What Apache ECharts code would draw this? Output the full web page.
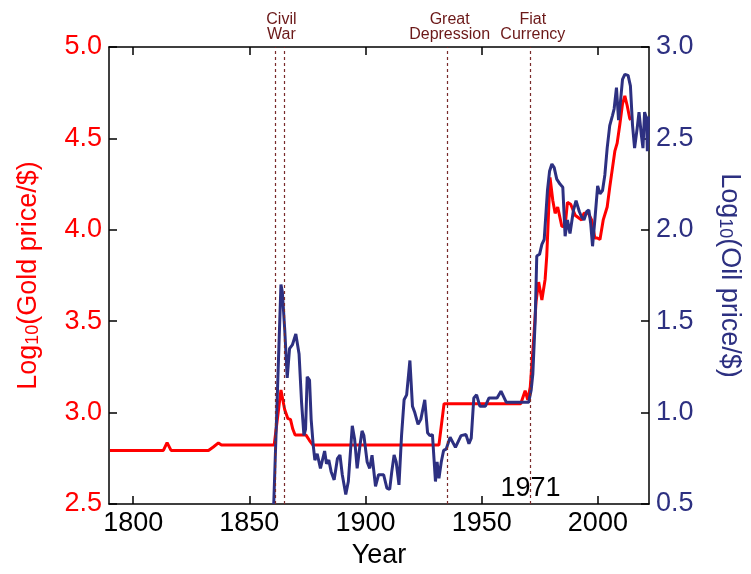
<!DOCTYPE html>
<html>
<head>
<meta charset="utf-8">
<script src="https://cdn.jsdelivr.net/npm/echarts@6/dist/echarts.min.js"></script>
<style>
  html, body { margin: 0; padding: 0; background: #fff; }
  #chart { width: 751px; height: 574px; }
</style>
</head>
<body>
<div id="chart"></div>
<script>
// log10 of gold price (left axis)
const goldYears = [1790, 1813, 1814.6, 1816.3, 1832.4, 1834.5, 1836.7, 1838, 1860.7, 1863.6,
    1865.2, 1866.6, 1867.7, 1868.7, 1869.7, 1874.4, 1875.9, 1877.3, 1931.6, 1933.8,
    1966.8, 1968.7, 1969.8, 1970.9, 1972.3, 1973.4, 1974.5, 1975.9, 1977.3, 1978,
    1979.4, 1980.6, 1981.6, 1982.7, 1984.5, 1985.9, 1986.9, 1988.3, 1990.2, 1993,
    1994, 1995.9, 1997.3, 1998.7, 1999.7, 2000.9, 2002.3, 2004, 2005.1, 2006.3,
    2007.3, 2008.3, 2009.4, 2010.6, 2011.6, 2012.6, 2013.7, 2014.1];
const goldLog = [2.793, 2.793, 2.836, 2.793, 2.793, 2.812, 2.834, 2.823, 2.823, 3.124,
    3.017, 2.967, 2.963, 2.91, 2.877, 2.877, 2.847, 2.823, 2.823, 3.049,
    3.049, 3.12, 3.07, 3.14, 3.39, 3.607, 3.714, 3.616, 3.73, 3.857,
    4.287, 4.16, 4.09, 4.125, 4.018, 4.02, 4.15, 4.14, 4.08, 4.054,
    4.09, 4.09, 4.054, 3.955, 3.955, 3.947, 4.054, 4.125, 4.233, 4.34,
    4.43, 4.474, 4.572, 4.689, 4.733, 4.68, 4.61, 4.60];

// log10 of oil price (right axis)
const oilYears = [1860.5, 1863.6, 1864.2, 1865.2, 1866.3, 1867.3, 1868.5, 1870, 1871.4, 1872.5,
    1873.5, 1874.2, 1874.9, 1875.9, 1876.6, 1877.5, 1878.2, 1879.2, 1880.6, 1882.4,
    1883.2, 1884.2, 1885.2, 1886.5, 1887.9, 1889, 1890, 1891.5, 1892.6, 1894.3,
    1895.3, 1896.4, 1897.6, 1898.5, 1899.3, 1900.7, 1901.8, 1902.8, 1904.3, 1905.6,
    1907.8, 1909.2, 1910.4, 1911.3, 1912.3, 1913.2, 1914.4, 1915.5, 1916.6, 1917.7,
    1919.1, 1920.2, 1921.2, 1922.6, 1923.8, 1925.5, 1926.7, 1927.7, 1928.8, 1930.1,
    1930.8, 1931.6, 1932.6, 1933.6, 1934.7, 1936.4, 1938.7, 1941.1, 1943.2, 1944.5,
    1945.5, 1946.6, 1947.8, 1949.2, 1951.6, 1953.1, 1956.6, 1958.3, 1960.6, 1970.2,
    1971.3, 1972, 1973, 1973.7, 1974.9, 1975.9, 1976.9, 1977.7, 1978.3, 1979.2,
    1980.2, 1981.2, 1982.3, 1983.7, 1984.9, 1985.9, 1986.9, 1988, 1989.5, 1990.6,
    1992, 1993, 1994, 1995.2, 1996.1, 1996.9, 1997.7, 1998.7, 1999.9, 2000.9,
    2002, 2003, 2004, 2005.1, 2006.3, 2007, 2008, 2008.9, 2009.7, 2010.6,
    2011.6, 2013, 2014, 2014.9, 2015.8, 2016.9, 2017.7, 2018.7, 2019.4, 2020.1,
    2020.9, 2021.3, 2021.8];
const oilLog = [0.50, 1.70, 1.66, 1.46, 1.19, 1.35, 1.37, 1.43, 1.32, 1.05,
    0.875, 0.91, 1.196, 1.178, 0.963, 0.82, 0.74, 0.775, 0.695, 0.79,
    0.72, 0.74, 0.677, 0.632, 0.748, 0.768, 0.66, 0.552, 0.623, 0.928,
    0.856, 0.695, 0.82, 0.90, 0.874, 0.73, 0.695, 0.767, 0.597, 0.66,
    0.66, 0.587, 0.58, 0.677, 0.768, 0.73, 0.605, 0.874, 1.07, 1.097,
    1.285, 1.035, 1.0, 0.936, 0.963, 1.07, 0.89, 0.874, 0.88, 0.623,
    0.73, 0.64, 0.73, 0.793, 0.80, 0.865, 0.81, 0.874, 0.88, 0.83,
    0.86, 1.08, 1.097, 1.035, 1.035, 1.08, 1.08, 1.117, 1.056, 1.056,
    1.124, 1.21, 1.5, 1.857, 1.866, 1.92, 1.947, 1.95, 2.215, 2.32,
    2.36, 2.34, 2.277, 2.25, 2.233, 1.965, 2.054, 1.98, 2.108, 2.16,
    2.1, 2.07, 2.054, 2.1, 2.108, 2.036, 1.91, 2.054, 2.24, 2.197,
    2.215, 2.30, 2.447, 2.57, 2.626, 2.662, 2.778, 2.6, 2.698, 2.823,
    2.85, 2.845, 2.787, 2.573, 2.447, 2.555, 2.644, 2.52, 2.447, 2.644,
    2.61, 2.43, 2.62];

const xTicks = [1800, 1850, 1900, 1950, 2000];
// dashed event lines; labels sit on their own invisible lines
const eventYears = [1861, 1865, 1935, 1971];
const eventLabels = [
    { year: 1863.8, text: 'Civil\nWar' },
    { year: 1936.2, text: 'Great\nDepression' },
    { year: 1972, text: 'Fiat\nCurrency' }
];
const noteYear = 1971;

const gold = goldYears.map(function (y, i) { return [y, goldLog[i]]; });
const oil = oilYears.map(function (y, i) { return [y, oilLog[i]]; });

const FONT = 'Liberation Sans';
const FS = 27;
const RED = '#ff0000';
const NAVY = '#2d3081';
const EVENT = '#7a2b2b';

let eventData = [];
for (let i = 0; i < eventYears.length; i++) {
    eventData.push({ xAxis: eventYears[i], label: { show: false } });
}
for (let i = 0; i < eventLabels.length; i++) {
    eventData.push({
        xAxis: eventLabels[i].year,
        lineStyle: { color: 'rgba(0,0,0,0)' },
        label: { show: true, formatter: eventLabels[i].text }
    });
}

const xCommon = {
    type: 'value',
    min: 1789.6,
    max: 2022,
    splitLine: { show: false },
    axisLine: { show: true, onZero: false, lineStyle: { color: '#000', width: 1.5 } },
    axisTick: { inside: true, length: 8, customValues: xTicks, lineStyle: { color: '#000', width: 1.5 } }
};

let myChart = echarts.init(document.getElementById('chart'));
let option = {
    animation: false,
    grid: { left: 109, right: 98, top: 47, bottom: 61 },
    xAxis: [
        Object.assign({}, xCommon, {
            position: 'bottom',
            name: 'Year',
            nameLocation: 'middle',
            nameGap: 38,
            nameTextStyle: { color: '#000', fontSize: FS, fontFamily: FONT },
            axisLabel: {
                customValues: xTicks, margin: 6, color: '#000', fontSize: FS, fontFamily: FONT,
                formatter: function (v) { return String(v); }
            }
        }),
        Object.assign({}, xCommon, {
            position: 'top',
            axisLabel: { show: false }
        })
    ],
    yAxis: [
        {
            type: 'value',
            position: 'left',
            min: 2.5, max: 5, interval: 0.5,
            splitLine: { show: false },
            axisLine: { show: true, onZero: false, lineStyle: { color: '#000', width: 1.5 } },
            axisTick: { inside: true, length: 8, lineStyle: { color: '#000', width: 1.5 } },
            axisLabel: {
                margin: 7, color: RED, fontSize: FS, fontFamily: FONT,
                formatter: function (v) { return v.toFixed(1); }
            },
            name: '{t|Log}{s|10}{t|(Gold price/$)}',
            nameLocation: 'middle',
            nameRotate: 90,
            nameGap: 67,
            nameTextStyle: {
                rich: {
                    t: { color: RED, fontSize: FS, fontFamily: FONT },
                    s: { color: RED, fontSize: 18, fontFamily: FONT, verticalAlign: 'bottom', padding: [6, 0, 0, 0] }
                }
            }
        },
        {
            type: 'value',
            position: 'right',
            min: 0.5, max: 3, interval: 0.5,
            splitLine: { show: false },
            axisLine: { show: true, onZero: false, lineStyle: { color: '#000', width: 1.5 } },
            axisTick: { inside: true, length: 8, lineStyle: { color: '#000', width: 1.5 } },
            axisLabel: {
                margin: 7, color: NAVY, fontSize: FS, fontFamily: FONT,
                formatter: function (v) { return v.toFixed(1); }
            },
            name: '{t|Log}{s|10}{t|(Oil price/$)}',
            nameLocation: 'middle',
            nameRotate: -90,
            nameGap: 67,
            nameTextStyle: {
                rich: {
                    t: { color: NAVY, fontSize: FS, fontFamily: FONT },
                    s: { color: NAVY, fontSize: 18, fontFamily: FONT, verticalAlign: 'bottom', padding: [6, 0, 0, 0] }
                }
            }
        }
    ],
    series: [
        {
            name: 'Gold',
            type: 'line',
            xAxisIndex: 0,
            yAxisIndex: 0,
            data: gold,
            showSymbol: false,
            lineStyle: { color: RED, width: 3 },
            itemStyle: { color: RED },
            markLine: {
                silent: true,
                symbol: 'none',
                lineStyle: { color: EVENT, width: 1.2, type: [3, 3] },
                label: {
                    position: 'end',
                    distance: 5,
                    color: '#6b1818',
                    fontSize: 16,
                    lineHeight: 15,
                    fontFamily: FONT
                },
                data: eventData
            },
            markPoint: {
                silent: true,
                symbol: 'circle',
                symbolSize: 0,
                label: {
                    show: true,
                    position: 'top',
                    distance: 2,
                    color: '#000',
                    fontSize: FS,
                    fontFamily: FONT,
                    formatter: String(noteYear)
                },
                data: [{ coord: [noteYear, 2.5] }]
            }
        },
        {
            name: 'Oil',
            type: 'line',
            xAxisIndex: 0,
            yAxisIndex: 1,
            data: oil,
            showSymbol: false,
            lineStyle: { color: NAVY, width: 3 },
            itemStyle: { color: NAVY }
        }
    ]
};

option && myChart.setOption(option);
</script>
</body>
</html>
